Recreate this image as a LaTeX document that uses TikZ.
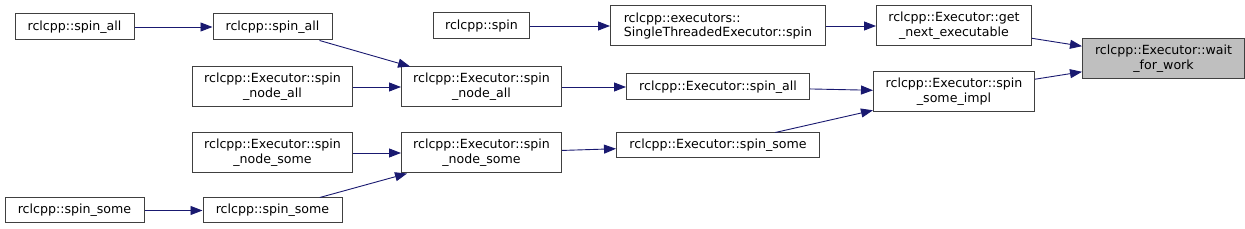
\documentclass[tikz,border=0pt]{standalone}
\usepackage{fontspec}
\setmainfont{DejaVu Sans}
\usepackage{tikz}
\usetikzlibrary{arrows.meta, positioning}
\definecolor{edgeblue}{HTML}{191970}
\definecolor{boxline}{HTML}{404040}
\definecolor{curfill}{HTML}{BFBFBF}

\begin{document}
\begin{tikzpicture}[
    x=1pt, y=1pt,
    fn/.style={
        rectangle, draw=boxline, line width=1pt,
        minimum height=26pt, inner sep=0pt,
        align=center, font=\fontsize{12.6}{14.7}\selectfont,
        fill=white, text=black
    },
    fntwo/.style={fn, minimum height=40pt},
    cur/.style={fntwo, fill=curfill},
    arr/.style={-{Triangle[length=12pt, width=9pt]}, line width=0.9pt, edgeblue},
]
\useasboundingbox (0,0) rectangle (1245,-229);

% ── Column 1 ────────────────────────────
\node[fn, minimum width=119pt] (spinallA) at (74.5,-27) {rclcpp::spin\_all};
\node[fn, minimum width=139pt, minimum height=25pt, below=157pt of spinallA] (spinsomeA) {rclcpp::spin\_some};

% ── Column 2 ────────────────────────────
\node[fn, minimum width=119pt, right=78pt of spinallA] (spinallB) {rclcpp::spin\_all};
\node[fntwo, minimum width=160pt, below=26pt of spinallB] (nodeallA) {rclcpp::Executor::spin\\\_node\_all};
\node[fntwo, minimum width=160pt, below=25pt of nodeallA] (nodesomeA) {rclcpp::Executor::spin\\\_node\_some};
\node[fn, minimum width=139pt, minimum height=25pt, right=58pt of spinsomeA] (spinsomeB) {rclcpp::spin\_some};

% ── Column 3 ────────────────────────────
\node[fntwo, minimum width=160pt, right=48pt of nodeallA] (nodeallB) {rclcpp::Executor::spin\\\_node\_all};
\node[fntwo, minimum width=160pt, right=48pt of nodesomeA] (nodesomeB) {rclcpp::Executor::spin\\\_node\_some};
\node[fn, minimum width=96pt, above=27pt of nodeallB] (spin) {rclcpp::spin};

% ── Column 4 ────────────────────────────
\node[fntwo, minimum width=215pt, align=left, right=80pt of spin] (stexec) {rclcpp::executors::\\SingleThreadedExecutor::spin};
\node[fn, minimum width=183pt, right=64pt of nodeallB] (execall) {rclcpp::Executor::spin\_all};
\node[fn, minimum width=203pt, minimum height=25pt, below=32pt of execall] (execsome) {rclcpp::Executor::spin\_some};

% ── Column 5 ────────────────────────────
\node[fntwo, minimum width=155pt, right=50pt of stexec] (getnext) {rclcpp::Executor::get\\\_next\_executable};
\node[fntwo, minimum width=161pt, below=25pt of getnext] (someimpl) {rclcpp::Executor::spin\\\_some\_impl};

% ── Column 6 ────────────────────────────
\node[cur, minimum width=162pt, right=50pt of getnext, yshift=-33pt] (waitwork) {rclcpp::Executor::wait\\\_for\_work};

% ── Calls ──────
\draw[arr] (spinallA) -- (spinallB);
\draw[arr] (spinallB) -- (nodeallB);
\draw[arr] (nodeallA) -- (nodeallB);
\draw[arr] (nodesomeA) -- (nodesomeB);
\draw[arr] (spinsomeA) -- (spinsomeB);
\draw[arr] (spinsomeB) -- (nodesomeB);
\draw[arr] (spin) -- (stexec);
\draw[arr] (nodeallB) -- (execall);
\draw[arr] (nodesomeB) -- (execsome);
\draw[arr] (stexec) -- (getnext);
\draw[arr] (execall) -- (someimpl);
\draw[arr] (execsome) -- (someimpl);
\draw[arr] (getnext) -- (waitwork);
\draw[arr] (someimpl) -- (waitwork);

\end{tikzpicture}
\end{document}
